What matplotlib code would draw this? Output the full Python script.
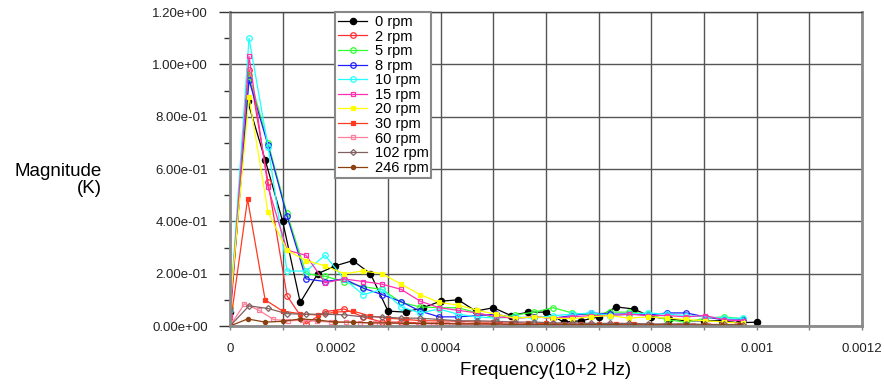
import numpy as np
import matplotlib
matplotlib.use("Agg")
import matplotlib.pyplot as plt
from matplotlib.ticker import MultipleLocator, FormatStrFormatter

plt.rcParams['font.family'] = ['Liberation Sans', 'DejaVu Sans']

# frequency steps of the three sampling grids (Hz)
step_a = 1 / 30000
step_b = 0.0000361
step_c = 0.0000275

labels = ["0 rpm", "2 rpm", "5 rpm", "8 rpm", "10 rpm", "15 rpm",
          "20 rpm", "30 rpm", "60 rpm", "102 rpm", "246 rpm"]

rpm0 = [0.055, 0.86, 0.635, 0.40, 0.09, 0.20, 0.23, 0.25, 0.20, 0.057, 0.053,
        0.07, 0.095, 0.10, 0.057, 0.07, 0.04, 0.053, 0.053, 0.015, 0.02,
        0.035, 0.073, 0.065, 0.035, 0.027, 0.02, 0.02, 0.02, 0.012, 0.015]
rpm2 = [0.02, 0.98, 0.55, 0.115, 0.008, 0.055, 0.065, 0.035, 0.015, 0.015,
        0.012, 0.01, 0.01, 0.008, 0.01, 0.005, 0.008, 0.006, 0.005, 0.005,
        0.004, 0.004, 0.004, 0.003, 0.003, 0.003, 0.003, 0.003]
rpm5 = [0.07, 0.96, 0.70, 0.43, 0.20, 0.19, 0.17, 0.15, 0.14, 0.09, 0.073,
        0.07, 0.07, 0.05, 0.03, 0.042, 0.053, 0.07, 0.05, 0.042, 0.053,
        0.053, 0.046, 0.023, 0.015, 0.03, 0.035, 0.027]
rpm8 = [0.06, 0.94, 0.69, 0.42, 0.18, 0.17, 0.18, 0.145, 0.12, 0.093, 0.057,
        0.035, 0.035, 0.04, 0.045, 0.03, 0.035, 0.03, 0.04, 0.05, 0.045,
        0.046, 0.042, 0.05, 0.05, 0.035, 0.023, 0.023]
rpm10 = [0.06, 1.10, 0.685, 0.21, 0.21, 0.27, 0.18, 0.12, 0.14, 0.073, 0.05,
         0.065, 0.045, 0.035, 0.03, 0.035, 0.03, 0.04, 0.045, 0.05, 0.04,
         0.045, 0.05, 0.045, 0.04, 0.035, 0.03, 0.03]
rpm15 = [0.04, 1.03, 0.53, 0.29, 0.27, 0.165, 0.18, 0.17, 0.16, 0.14, 0.095,
         0.07, 0.06, 0.05, 0.035, 0.03, 0.035, 0.03, 0.035, 0.04, 0.04,
         0.045, 0.04, 0.04, 0.035, 0.04, 0.023, 0.02]
rpm20 = [0.08, 0.875, 0.435, 0.29, 0.25, 0.23, 0.20, 0.21, 0.20, 0.16, 0.12,
         0.09, 0.08, 0.06, 0.045, 0.03, 0.035, 0.03, 0.028, 0.035, 0.04,
         0.03, 0.035, 0.03, 0.025, 0.02, 0.015, 0.01]
rpm30 = [0.0, 0.485, 0.10, 0.057, 0.047, 0.042, 0.053, 0.057, 0.038, 0.03,
         0.025, 0.02, 0.02, 0.018, 0.015, 0.015, 0.012, 0.01, 0.01, 0.008,
         0.008, 0.008, 0.006, 0.006, 0.005, 0.005, 0.005, 0.005, 0.004, 0.004]
rpm60 = [0.0, 0.085, 0.06, 0.025, 0.02, 0.022, 0.018, 0.015, 0.015, 0.012,
         0.012, 0.01, 0.01, 0.009, 0.008, 0.008, 0.007, 0.007, 0.006, 0.006,
         0.006, 0.005, 0.005, 0.005, 0.005, 0.004, 0.004, 0.004, 0.004,
         0.004, 0.003, 0.003, 0.003, 0.003, 0.003, 0.003]
rpm102 = [0.0, 0.077, 0.067, 0.047, 0.045, 0.045, 0.043, 0.035, 0.035, 0.03,
          0.03, 0.025, 0.02, 0.02, 0.018, 0.015, 0.015, 0.012, 0.012, 0.01,
          0.01, 0.01, 0.008, 0.008, 0.008, 0.006, 0.006, 0.005]
rpm246 = [0.0, 0.027, 0.015, 0.018, 0.027, 0.023, 0.015, 0.015, 0.012, 0.012,
          0.01, 0.01, 0.01, 0.008, 0.008, 0.008, 0.006, 0.006, 0.006, 0.005,
          0.005, 0.005, 0.005, 0.004, 0.004, 0.004, 0.004, 0.003, 0.003, 0.003]

series = [rpm0, rpm2, rpm5, rpm8, rpm10, rpm15, rpm20, rpm30, rpm60, rpm102, rpm246]
steps = [step_a, step_b, step_b, step_b, step_b, step_b, step_b, step_a,
         step_c, step_b, step_a]
colors = ["#000000", "#ff3030", "#30ff30", "#2020ff", "#20ffff", "#ff30b0",
          "#ffff00", "#ff3a20", "#ff7f9a", "#806060", "#8b4010"]
markers = ["o", "o", "o", "o", "o", "s", "s", "s", "s", "D", "o"]
filled = [True, False, False, False, False, False, True, True, False, False, True]
sizes = [4.5, 4, 4, 4, 4, 3.5, 3.5, 3.5, 3.5, 3, 3]

fig = plt.figure(figsize=(8.84, 3.86), dpi=100)
ax = fig.add_axes([0.2602, 0.1554, 0.7149, 0.8135])

for vals, st, c, m, f, s, lab in zip(series, steps, colors, markers, filled, sizes, labels):
    freq = np.arange(len(vals)) * st
    ax.plot(freq, vals, color=c, lw=0.9, marker=m, ms=s,
            markerfacecolor=c if f else "none", markeredgecolor=c,
            markeredgewidth=0.9, label=lab)

ax.set_xlim(0, 0.0012)
ax.set_ylim(0, 1.2)
ax.xaxis.set_major_locator(MultipleLocator(0.0002))
ax.xaxis.set_minor_locator(MultipleLocator(0.0001))
ax.yaxis.set_major_locator(MultipleLocator(0.2))
ax.yaxis.set_minor_locator(MultipleLocator(0.1))
ax.yaxis.set_major_formatter(FormatStrFormatter("%.2e"))
ax.set_xticks([0, 0.0002, 0.0004, 0.0006, 0.0008, 0.001, 0.0012])
ax.set_xticklabels(["0", "0.0002", "0.0004", "0.0006", "0.0008", "0.001", "0.0012"])

ax.grid(True, which="major", color="#555555", lw=1.0)
ax.grid(True, which="minor", axis="x", color="#555555", lw=1.0)
ax.tick_params(axis="y", which="major", direction="out", length=8, width=1,
               pad=8, labelsize=9.5, color="#333333", labelcolor="#222222")
ax.tick_params(axis="y", which="minor", direction="out", length=4, width=1,
               color="#333333")
ax.tick_params(axis="x", which="both", direction="out", length=3, width=1,
               pad=9, labelsize=9.5, color="#808080", labelcolor="#222222")
for side in ["left", "bottom", "right"]:
    ax.spines[side].set_color("#8a8a8a")
    ax.spines[side].set_linewidth(2)
ax.spines["top"].set_color("#444444")
ax.spines["top"].set_linewidth(1)

ax.set_xlabel("Frequency(10+2 Hz)", fontsize=13.5, labelpad=5)
fig.text(102 / 884, 1 - 180 / 386, "Magnitude\n(K)", ha="right", va="center",
         fontsize=13.5, multialignment="right", linespacing=0.95)

leg = ax.legend(loc="upper left", bbox_to_anchor=(0.1665, 1.0), fontsize=10.5,
                frameon=True, fancybox=False, framealpha=1, edgecolor="#888888",
                borderpad=0.2, labelspacing=0.04, handlelength=2.0,
                handletextpad=0.5, borderaxespad=0)
leg.get_frame().set_linewidth(1.5)

fig.savefig("out.png", dpi=100)
